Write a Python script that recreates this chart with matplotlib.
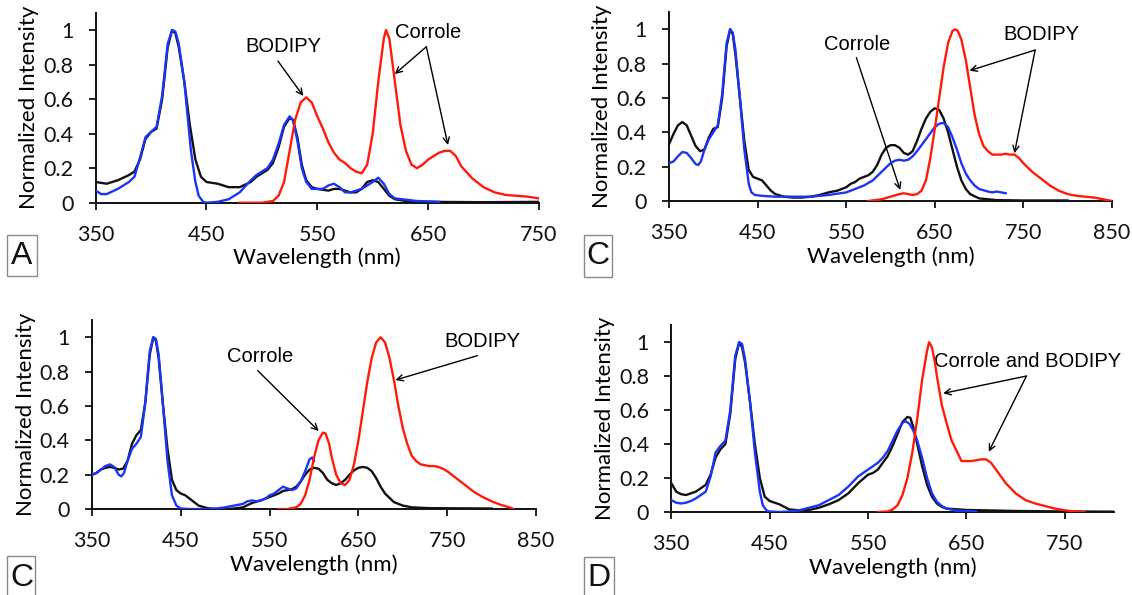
import matplotlib
matplotlib.use("Agg")
import matplotlib.pyplot as plt
from matplotlib.patches import Rectangle

plt.rcParams['font.family'] = ['Lato', 'DejaVu Sans']

# ---------------- Panel A data ----------------
a_black_x = [350, 360, 370, 380, 385, 390, 395, 400, 405, 410, 415, 419, 422, 425, 430, 435, 440, 445, 450, 460, 470, 480,
             490, 495, 500, 505, 510, 515, 520, 525, 528, 532, 536, 540, 545, 550, 560, 565, 570, 575, 580, 585, 590, 595,
             600, 605, 610, 615, 620, 630, 650, 700, 750]
a_black_y = [0.12, 0.11, 0.13, 0.16, 0.18, 0.25, 0.37, 0.41, 0.43, 0.6, 0.9, 1.0, 0.98, 0.9, 0.7, 0.45, 0.25, 0.15, 0.12, 0.11,
             0.09, 0.09, 0.12, 0.15, 0.17, 0.19, 0.23, 0.32, 0.44, 0.49, 0.48, 0.38, 0.22, 0.13, 0.09, 0.08, 0.07, 0.08, 0.08,
             0.07, 0.06, 0.06, 0.08, 0.12, 0.13, 0.12, 0.08, 0.04, 0.02, 0.01, 0.005, 0.003, 0.005]
a_blue_x = [350, 355, 360, 370, 380, 385, 390, 395, 400, 405, 410, 415, 419, 422, 425, 430, 433, 436, 440, 443, 447, 450, 460,
            470, 480, 490, 495, 500, 505, 510, 515, 520, 525, 528, 532, 536, 540, 545, 555, 560, 565, 570, 575, 580, 590, 600,
            605, 610, 615, 620, 640, 660]
a_blue_y = [0.07, 0.05, 0.05, 0.08, 0.12, 0.15, 0.26, 0.38, 0.41, 0.44, 0.62, 0.92, 1.0, 0.99, 0.92, 0.7, 0.5, 0.3, 0.12, 0.04,
            0.005, 0.0, 0.005, 0.02, 0.06, 0.13, 0.16, 0.18, 0.2, 0.25, 0.34, 0.45, 0.5, 0.48, 0.36, 0.2, 0.12, 0.08, 0.08,
            0.1, 0.11, 0.09, 0.06, 0.06, 0.08, 0.12, 0.145, 0.11, 0.05, 0.025, 0.01, 0.005]
a_red_x = [480, 500, 510, 515, 520, 525, 530, 535, 540, 545, 550, 555, 560, 565, 570, 575, 580, 585, 590, 595, 600, 605, 610,
           612, 615, 620, 625, 630, 635, 640, 645, 650, 655, 660, 665, 670, 675, 680, 690, 700, 710, 720, 730, 740, 750]
a_red_y = [0.0, 0.0, 0.01, 0.04, 0.12, 0.3, 0.48, 0.58, 0.61, 0.58, 0.5, 0.43, 0.35, 0.29, 0.25, 0.23, 0.2, 0.18, 0.17, 0.22,
           0.4, 0.7, 0.95, 1.0, 0.95, 0.7, 0.45, 0.3, 0.22, 0.2, 0.22, 0.25, 0.27, 0.29, 0.3, 0.3, 0.27, 0.21, 0.14, 0.09,
           0.06, 0.045, 0.04, 0.035, 0.025]

# ---------------- Panel C (top right) data ----------------
c1_black_x = [350, 355, 360, 365, 370, 375, 380, 385, 390, 395, 400, 405, 410, 415, 419, 422, 425, 430, 435, 440, 445, 450,
              455, 460, 465, 470, 480, 490, 500, 510, 520, 530, 540, 550, 555, 560, 565, 570, 575, 580, 585, 590, 595, 600,
              605, 610, 615, 620, 625, 630, 635, 640, 645, 650, 655, 660, 665, 670, 675, 680, 685, 690, 700, 720, 750, 800]
c1_black_y = [0.33, 0.39, 0.44, 0.46, 0.44, 0.38, 0.32, 0.29, 0.3, 0.37, 0.42, 0.43, 0.6, 0.9, 1.0, 0.97, 0.85, 0.6, 0.35,
              0.18, 0.14, 0.13, 0.12, 0.09, 0.06, 0.04, 0.025, 0.02, 0.02, 0.025, 0.035, 0.05, 0.06, 0.08, 0.1, 0.11, 0.13,
              0.14, 0.15, 0.17, 0.21, 0.27, 0.31, 0.325, 0.325, 0.31, 0.28, 0.27, 0.29, 0.35, 0.42, 0.48, 0.52, 0.54, 0.53,
              0.48, 0.4, 0.3, 0.2, 0.12, 0.07, 0.04, 0.015, 0.005, 0.003, 0.003]
c1_blue_x = [350, 355, 360, 365, 370, 375, 380, 383, 386, 390, 395, 400, 405, 410, 415, 419, 422, 425, 430, 435, 440, 443, 447,
             455, 470, 490, 510, 530, 550, 560, 570, 580, 590, 600, 605, 610, 615, 620, 625, 630, 640, 650, 655, 660, 665,
             670, 675, 680, 685, 690, 695, 700, 710, 715, 720, 725, 730]
c1_blue_y = [0.22, 0.23, 0.26, 0.285, 0.28, 0.25, 0.215, 0.21, 0.23, 0.3, 0.36, 0.4, 0.44, 0.62, 0.92, 1.0, 0.98, 0.88, 0.6,
             0.3, 0.1, 0.05, 0.035, 0.03, 0.025, 0.025, 0.025, 0.035, 0.05, 0.07, 0.09, 0.12, 0.17, 0.22, 0.235, 0.24, 0.235,
             0.24, 0.26, 0.29, 0.36, 0.43, 0.45, 0.455, 0.43, 0.37, 0.3, 0.22, 0.16, 0.12, 0.09, 0.07, 0.055, 0.05, 0.055,
             0.05, 0.045]
c1_red_x = [575, 590, 600, 610, 615, 620, 625, 630, 635, 640, 645, 650, 655, 660, 665, 670, 673, 676, 680, 685, 690, 695, 700,
            705, 710, 715, 720, 725, 730, 735, 740, 745, 750, 760, 770, 780, 790, 800, 810, 820, 830, 840, 850]
c1_red_y = [0.0, 0.01, 0.025, 0.04, 0.045, 0.04, 0.035, 0.04, 0.06, 0.12, 0.25, 0.42, 0.6, 0.78, 0.92, 0.99, 1.0, 0.99, 0.94,
            0.82, 0.66, 0.5, 0.39, 0.32, 0.29, 0.27, 0.27, 0.27, 0.275, 0.27, 0.27, 0.25, 0.22, 0.17, 0.13, 0.09, 0.06, 0.04,
            0.03, 0.025, 0.02, 0.01, 0.0]

# ---------------- Panel C (bottom left) data ----------------
c2_black_x = [350, 355, 360, 365, 370, 375, 380, 385, 390, 395, 400, 405, 410, 415, 419, 422, 425, 430, 435, 440, 445, 450,
              455, 460, 465, 470, 480, 490, 500, 510, 520, 530, 540, 550, 560, 565, 570, 575, 580, 585, 590, 595, 600, 605,
              610, 615, 620, 625, 630, 635, 640, 645, 650, 655, 660, 665, 670, 675, 680, 690, 700, 710, 730, 800]
c2_black_y = [0.2, 0.21, 0.23, 0.24, 0.245, 0.24, 0.23, 0.235, 0.28, 0.38, 0.43, 0.46, 0.62, 0.9, 1.0, 0.98, 0.88, 0.6, 0.35,
              0.17, 0.11, 0.09, 0.08, 0.06, 0.04, 0.02, 0.005, 0.0, 0.0, 0.003, 0.01, 0.035, 0.05, 0.07, 0.09, 0.105, 0.11,
              0.115, 0.13, 0.16, 0.2, 0.23, 0.24, 0.235, 0.21, 0.17, 0.15, 0.14, 0.15, 0.17, 0.2, 0.225, 0.24, 0.245, 0.24,
              0.22, 0.18, 0.13, 0.09, 0.04, 0.02, 0.01, 0.005, 0.003]
c2_blue_x = [350, 355, 360, 365, 370, 375, 380, 383, 386, 390, 395, 400, 405, 410, 415, 419, 422, 425, 430, 435, 440, 445, 450,
             460, 480, 490, 500, 510, 520, 525, 530, 535, 540, 545, 550, 555, 560, 565, 570, 575, 580, 585, 590, 595, 598, 600]
c2_blue_y = [0.2, 0.21, 0.23, 0.25, 0.26, 0.245, 0.2, 0.19, 0.21, 0.28, 0.35, 0.38, 0.42, 0.62, 0.92, 1.0, 0.99, 0.9, 0.6,
             0.28, 0.08, 0.02, 0.003, 0.0, 0.0, 0.003, 0.01, 0.02, 0.03, 0.045, 0.05, 0.045, 0.05, 0.06, 0.08, 0.09, 0.11,
             0.13, 0.12, 0.11, 0.12, 0.16, 0.22, 0.29, 0.3, 0.28]
c2_red_x = [560, 570, 580, 585, 590, 595, 600, 605, 610, 613, 617, 620, 625, 630, 635, 640, 645, 650, 655, 660, 665, 670, 675,
            680, 685, 690, 695, 700, 705, 710, 715, 720, 725, 730, 735, 740, 745, 750, 755, 760, 770, 780, 790, 800, 810,
            820, 825]
c2_red_y = [0.0, 0.0, 0.01, 0.03, 0.08, 0.17, 0.3, 0.4, 0.445, 0.44, 0.38, 0.3, 0.2, 0.15, 0.14, 0.17, 0.26, 0.4, 0.57, 0.74,
            0.88, 0.97, 1.0, 0.97, 0.88, 0.75, 0.6, 0.47, 0.38, 0.31, 0.28, 0.26, 0.255, 0.25, 0.25, 0.245, 0.235, 0.22, 0.2,
            0.18, 0.14, 0.1, 0.07, 0.045, 0.025, 0.01, 0.0]

# ---------------- Panel D data ----------------
d_black_x = [350, 355, 360, 365, 370, 375, 380, 385, 390, 395, 400, 405, 410, 415, 419, 422, 425, 430, 435, 440, 445, 450, 455,
             460, 465, 470, 480, 490, 500, 510, 520, 530, 540, 550, 555, 560, 565, 570, 575, 580, 585, 590, 593, 596, 600,
             605, 610, 615, 620, 625, 630, 650, 700, 750, 800]
d_black_y = [0.17, 0.12, 0.105, 0.1, 0.11, 0.12, 0.14, 0.16, 0.22, 0.32, 0.37, 0.4, 0.58, 0.9, 1.0, 0.97, 0.88, 0.65, 0.4,
             0.2, 0.09, 0.065, 0.055, 0.045, 0.03, 0.015, 0.01, 0.012, 0.025, 0.045, 0.07, 0.11, 0.17, 0.22, 0.23, 0.25,
             0.29, 0.33, 0.39, 0.46, 0.53, 0.56, 0.555, 0.5, 0.4, 0.27, 0.16, 0.09, 0.05, 0.03, 0.02, 0.012, 0.006, 0.003,
             0.002]
d_blue_x = [350, 355, 360, 365, 370, 375, 380, 385, 390, 395, 400, 405, 410, 415, 419, 422, 425, 430, 435, 440, 443, 447, 450,
            460, 470, 480, 490, 500, 510, 520, 530, 540, 550, 560, 565, 570, 575, 580, 585, 588, 592, 596, 600, 605, 610,
            615, 620, 625, 630, 640, 660]
d_blue_y = [0.07, 0.055, 0.05, 0.055, 0.065, 0.08, 0.1, 0.12, 0.21, 0.35, 0.39, 0.42, 0.6, 0.92, 1.0, 0.99, 0.9, 0.65, 0.35,
            0.12, 0.04, 0.008, 0.003, 0.0, 0.003, 0.01, 0.025, 0.04, 0.07, 0.1, 0.15, 0.21, 0.25, 0.29, 0.32, 0.36, 0.42,
            0.48, 0.525, 0.535, 0.52, 0.48, 0.42, 0.32, 0.2, 0.11, 0.06, 0.035, 0.02, 0.008, 0.003]
d_red_x = [560, 570, 575, 580, 585, 590, 595, 600, 605, 610, 612, 615, 618, 620, 625, 630, 635, 640, 645, 650, 655, 660, 665,
           670, 675, 680, 685, 690, 700, 710, 720, 730, 740, 750, 760, 770]
d_red_y = [0.0, 0.003, 0.015, 0.04, 0.1, 0.2, 0.35, 0.55, 0.78, 0.95, 1.0, 0.97, 0.88, 0.8, 0.63, 0.52, 0.42, 0.36, 0.3, 0.3,
           0.3, 0.305, 0.31, 0.31, 0.29, 0.25, 0.21, 0.17, 0.11, 0.07, 0.05, 0.035, 0.02, 0.01, 0.003, 0.0]

y_ticks = [0, 0.2, 0.4, 0.6, 0.8, 1.0]
y_tick_labels = ["0", "0.2", "0.4", "0.6", "0.8", "1"]
ticks_a = [350, 450, 550, 650, 750]
ticks_c = [350, 450, 550, 650, 750, 850]
ticks_d = [350, 450, 550, 650, 750]

BLACK = '#111111'
BLUE = '#1a35f5'
RED = '#ff1a0a'
LW = 1.7

fig = plt.figure(figsize=(11.32, 5.95), dpi=100)

panels = [
    ([0.0845, 0.6593, 0.3916, 0.3193], (350, 750), ticks_a, (a_black_x, a_black_y), (a_blue_x, a_blue_y), (a_red_x, a_red_y)),
    ([0.5910, 0.6622, 0.3913, 0.3175], (350, 850), ticks_c, (c1_black_x, c1_black_y), (c1_blue_x, c1_blue_y), (c1_red_x, c1_red_y)),
    ([0.0813, 0.1445, 0.3922, 0.3175], (350, 850), ticks_c, (c2_black_x, c2_black_y), (c2_blue_x, c2_blue_y), (c2_red_x, c2_red_y)),
    ([0.5930, 0.1395, 0.3911, 0.3138], (350, 800), ticks_d, (d_black_x, d_black_y), (d_blue_x, d_blue_y), (d_red_x, d_red_y)),
]

axes = []
for rect, xlim, xt, blk, blu, rd in panels:
    ax = fig.add_axes(rect)
    ax.plot(blk[0], blk[1], color=BLACK, lw=LW, solid_joinstyle='round', zorder=3)
    ax.plot(blu[0], blu[1], color=BLUE, lw=LW, solid_joinstyle='round', zorder=4)
    ax.plot(rd[0], rd[1], color=RED, lw=LW, solid_joinstyle='round', zorder=5)
    ax.set_xlim(*xlim)
    ax.set_ylim(0, 1.1)
    ax.set_xticks(xt)
    ax.set_yticks(y_ticks)
    ax.set_yticklabels(y_tick_labels)
    for s in ['top', 'right']:
        ax.spines[s].set_visible(False)
    for s in ['left', 'bottom']:
        ax.spines[s].set_linewidth(1.4)
        ax.spines[s].set_color('#111111')
    ax.tick_params(axis='both', direction='out', length=5, width=1.3, labelsize=15.5, colors='#111111')
    ax.tick_params(axis='y', pad=11)
    ax.tick_params(axis='x', pad=11)
    ax.set_xlabel('Wavelength (nm)', fontsize=16, labelpad=2)
    ax.set_ylabel('Normalized Intensity', fontsize=16, labelpad=3)
    ax.patch.set_alpha(0)
    axes.append(ax)

arrow = dict(arrowstyle='->', color='black', lw=1.0, mutation_scale=11, shrinkA=0, shrinkB=0)
afont = dict(fontsize=14.5, family=['Liberation Sans', 'DejaVu Sans'], ha='center', va='center')

# Panel A annotations
ax = axes[0]
ax.text(519.5, 0.903, 'BODIPY', **afont)
ax.annotate('', xy=(537.3, 0.618), xytext=(514.5, 0.82), arrowprops=arrow)
ax.text(649.7, 0.987, 'Corrole', **afont)
ax.annotate('', xy=(619.9, 0.745), xytext=(648.4, 0.903), arrowprops=arrow)
ax.annotate('', xy=(667.9, 0.334), xytext=(648.4, 0.903), arrowprops=arrow)

# Panel C top annotations
ax = axes[1]
ax.text(562.7, 0.913, 'Corrole', **afont)
ax.annotate('', xy=(611, 0.064), xytext=(561.5, 0.835), arrowprops=arrow)
ax.text(770.8, 0.971, 'BODIPY', **afont)
ax.annotate('', xy=(689.2, 0.759), xytext=(763.3, 0.879), arrowprops=arrow)
ax.annotate('', xy=(739.9, 0.278), xytext=(763.3, 0.879), arrowprops=arrow)

# Panel C bottom annotations
ax = axes[2]
ax.text(539.4, 0.891, 'Corrole', **afont)
ax.annotate('', xy=(605.3, 0.454), xytext=(536.6, 0.806), arrowprops=arrow)
ax.text(790.0, 0.978, 'BODIPY', **afont)
ax.annotate('', xy=(691.7, 0.751), xytext=(784, 0.893), arrowprops=arrow)

# Panel D annotations
ax = axes[3]
ax.text(712.5, 0.886, 'Corrole and BODIPY', clip_on=False, **afont)
ax.annotate('', xy=(626.4, 0.699), xytext=(711, 0.801), arrowprops=arrow)
ax.annotate('', xy=(672.7, 0.355), xytext=(711, 0.801), arrowprops=arrow)

# Panel letters in boxes
letters = [
    ('A', (0.00636, 0.5361, 0.0263, 0.0689), (0.0194, 0.5697)),
    ('C', (0.5156, 0.5340, 0.0248, 0.0711), (0.5280, 0.5697)),
    ('C', (0.00636, -0.0100, 0.0244, 0.0755), (0.0190, 0.0294)),
    ('D', (0.5156, -0.0100, 0.0264, 0.0744), (0.5290, 0.0294)),
]
for lab, (x0, y0, w, h), (tx, ty) in letters:
    fig.add_artist(Rectangle((x0, y0), w, h, transform=fig.transFigure, fill=False,
                             edgecolor='#8a8a8a', lw=1.0))
    fig.text(tx, ty, lab, fontsize=23, family=['Liberation Sans', 'DejaVu Sans'],
             ha='center', va='center', color='#111111')

fig.savefig('out.png', dpi=100)
